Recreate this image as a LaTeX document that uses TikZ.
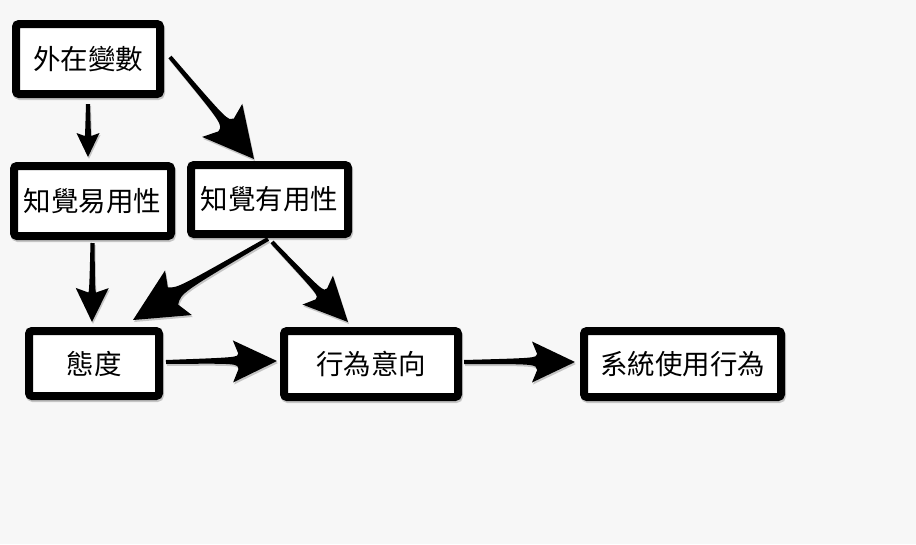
\documentclass[tikz,border=0pt]{standalone}
\usepackage{fontspec}
\newfontfamily\cjk{Noto Sans CJK TC}
\usetikzlibrary{calc,shadows}

% wedge arrow: [bend]{tail}{tip}{head length}{head half width}{shaft half width}
\newcommand{\fatarrow}[6][0pt]{%
  \fill[arrowFill]
    ($(#2)!2pt!90:(#3)$)
      .. controls ($(#2)!0.65!(#3)!3pt+#1!90:(#3)$) ..
    ($(#3)!0.88*#4!(#2)!#6!-90:(#2)$)
    -- ($(#3)!#4!(#2)!#5!-90:(#2)$)
    -- (#3)
    -- ($(#3)!#4!(#2)!#5!90:(#2)$)
    -- ($(#3)!0.88*#4!(#2)!#6!90:(#2)$)
      .. controls ($(#2)!0.65!(#3)!3pt-(#1)!-90:(#3)$) ..
    ($(#2)!2pt!-90:(#3)$)
    -- cycle;
}

\begin{document}
\begin{tikzpicture}[x=1pt, y=-1pt]
    \definecolor{borderColour}{HTML}{000000}
    \definecolor{paperColour}{HTML}{F7F7F7}

    \tikzset{
        softShadow/.style={drop shadow={shadow xshift=1pt, shadow yshift=-2pt,
            fill=black, opacity=0.2}},
        box/.style={draw=borderColour, fill=white, line width=8pt,
            rounded corners=3pt, inner sep=0pt, outer sep=0pt,
            minimum height=70pt,
            font=\cjk\fontsize{27.5}{30}\selectfont,
            drop shadow={shadow xshift=1pt, shadow yshift=-2pt,
                draw=black, line width=8pt, opacity=0.2}},
        arrowFill/.style={fill=borderColour, softShadow}
    }

    % Paper
    \fill[paperColour] (0,0) rectangle (916,544);

    % Boxes
    \node[box, minimum width=144pt] (ext)  at (88,59)      {外在變數};
    \node[box, minimum width=157pt] (peou) at (92.5,201)   {知覺易用性};
    \node[box, minimum width=157pt, minimum height=69pt] (pu) at (269.5,199.5) {知覺有用性};
    \node[box, minimum width=130pt, minimum height=65pt] (att) at (94,363.5) {態度};
    \node[box, minimum width=174pt, minimum height=66pt] (bi)  at (371,364)  {行為意向};
    \node[box, minimum width=197pt, minimum height=66pt] (use) at (682.5,364) {系統使用行為};

    % Arrow ends
    \coordinate (ext-s)  at ([yshift=-10pt]ext.south);
    \coordinate (peou-n) at ([xshift=-4.5pt, yshift=9pt]peou.north);
    \coordinate (ext-e)  at ([xshift=10pt, yshift=2pt]ext.east);
    \coordinate (pu-n)   at ([xshift=-15.5pt, yshift=6pt]pu.north);
    \coordinate (peou-s) at ([yshift=-7pt]peou.south);
    \coordinate (att-n)  at ([xshift=-2pt, yshift=9pt]att.north);
    \coordinate (pu-sw)  at ([xshift=-1.5pt, yshift=-5pt]pu.south);
    \coordinate (att-ne) at ([xshift=-26pt, yshift=11pt]att.north east);
    \coordinate (pu-se)  at ([xshift=2.5pt, yshift=-8pt]pu.south);
    \coordinate (bi-n)   at ([xshift=-23pt, yshift=9pt]bi.north);
    \coordinate (att-e)  at ([xshift=7pt, yshift=1.5pt]att.east);
    \coordinate (bi-w)   at ([xshift=-7pt, yshift=3pt]bi.west);
    \coordinate (bi-e)   at ([xshift=6pt, yshift=2pt]bi.east);
    \coordinate (use-w)  at ([xshift=-9pt, yshift=2pt]use.west);

    % Draw arrows
    \fatarrow{ext-s}{peou-n}{24pt}{11.5pt}{3.5pt}
    \fatarrow[1pt]{ext-e}{pu-n}{50pt}{26pt}{10pt}
    \fatarrow{peou-s}{att-n}{34pt}{16.5pt}{5pt}
    \fatarrow[-1.5pt]{pu-sw}{att-ne}{53pt}{26pt}{10pt}
    \fatarrow{pu-se}{bi-n}{44pt}{21pt}{8pt}
    \fatarrow[1pt]{att-e}{bi-w}{44pt}{21pt}{8pt}
    \fatarrow[1pt]{bi-e}{use-w}{43pt}{20.5pt}{8pt}

\end{tikzpicture}
\end{document}
